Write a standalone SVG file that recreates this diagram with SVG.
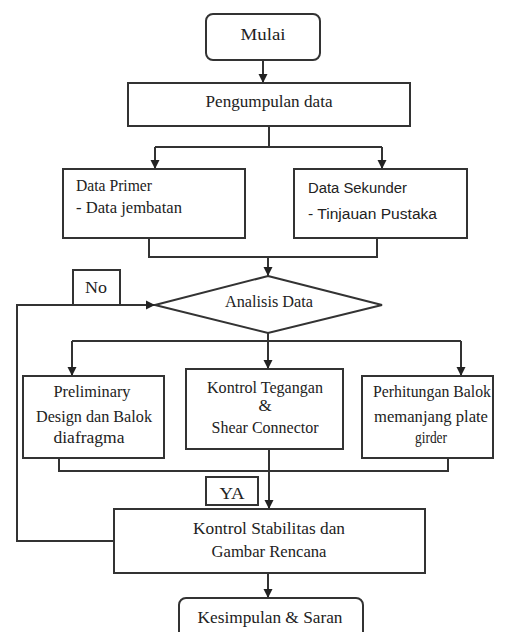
<svg xmlns="http://www.w3.org/2000/svg" width="507" height="632" viewBox="0 0 507 632">
<defs>
<marker id="ah" markerUnits="userSpaceOnUse" markerWidth="10" markerHeight="10" refX="9" refY="5" orient="auto">
<path d="M0,0.5 L9,5 L0,9.5 Z" fill="#222"/>
</marker>
<style>
.box{fill:#fff;stroke:#333;stroke-width:2}
.ln{fill:none;stroke:#333;stroke-width:2}
.t{font-family:"Liberation Serif","DejaVu Serif",serif;font-size:17px;fill:#222}
.s{font-family:"Liberation Sans","DejaVu Sans",sans-serif;font-size:14px;fill:#222}
</style>
</defs>
<rect width="507" height="632" fill="#fff"/>
<g id="connectors">
<path class="ln" d="M263,60 V83" marker-end="url(#ah)"/>
<path class="ln" d="M269,126 V147 M155,147 H382"/>
<path class="ln" d="M155,147 V169" marker-end="url(#ah)"/>
<path class="ln" d="M382,147 V169" marker-end="url(#ah)"/>
<path class="ln" d="M149,238 V257 H377 V238"/>
<path class="ln" d="M268,257 V276" marker-end="url(#ah)"/>
<path class="ln" d="M268,333 V341 M72,341 H461"/>
<path class="ln" d="M72,341 V376" marker-end="url(#ah)"/>
<path class="ln" d="M268,341 V369" marker-end="url(#ah)"/>
<path class="ln" d="M461,341 V376" marker-end="url(#ah)"/>
<path class="ln" d="M59,458 V471 H448 V458"/>
<path class="ln" d="M269,449 V509" marker-end="url(#ah)"/>
<path class="ln" d="M114,541 H17 V305 H155" marker-end="url(#ah)"/>
<path class="ln" d="M268,573 V598" marker-end="url(#ah)"/>
</g>
<g id="mulai">
<rect class="box" x="206" y="14" width="114" height="46" rx="7"/>
<text class="t" x="263" y="40" text-anchor="middle" textLength="45" lengthAdjust="spacingAndGlyphs">Mulai</text>
</g>
<g id="pengumpulan">
<rect class="box" x="128" y="83" width="282" height="43"/>
<text class="t" x="269" y="107" text-anchor="middle" textLength="127" lengthAdjust="spacingAndGlyphs">Pengumpulan data</text>
</g>
<g id="data-primer">
<rect class="box" x="63" y="169" width="182" height="69"/>
<text class="t" x="76" y="191" textLength="76" lengthAdjust="spacingAndGlyphs">Data Primer</text>
<text class="t" x="76" y="213" textLength="106" lengthAdjust="spacingAndGlyphs">- Data jembatan</text>
</g>
<g id="data-sekunder">
<rect class="box" x="294" y="169" width="173" height="69"/>
<text class="s" x="308" y="193" textLength="99" lengthAdjust="spacingAndGlyphs">Data Sekunder</text>
<text class="s" x="308" y="219" textLength="129" lengthAdjust="spacingAndGlyphs">- Tinjauan Pustaka</text>
</g>
<g id="analisis">
<polygon class="box" points="268,276 382,305 268,333 155,305"/>
<text class="t" x="269" y="307" text-anchor="middle" textLength="88" lengthAdjust="spacingAndGlyphs">Analisis Data</text>
</g>
<g id="no">
<rect class="box" x="73" y="270" width="47" height="35"/>
<text class="t" x="96" y="293" text-anchor="middle" textLength="22" lengthAdjust="spacingAndGlyphs">No</text>
</g>
<g id="preliminary">
<rect class="box" x="23" y="376" width="141" height="82"/>
<text class="t" x="92" y="397" text-anchor="middle" textLength="77" lengthAdjust="spacingAndGlyphs">Preliminary</text>
<text class="t" x="94" y="422" text-anchor="middle" textLength="116" lengthAdjust="spacingAndGlyphs">Design dan Balok</text>
<text class="t" x="89" y="443" text-anchor="middle" textLength="71" lengthAdjust="spacingAndGlyphs">diafragma</text>
</g>
<g id="kontrol-tegangan">
<rect class="box" x="186" y="369" width="157" height="80"/>
<text class="t" x="265" y="393" text-anchor="middle" textLength="116" lengthAdjust="spacingAndGlyphs">Kontrol Tegangan</text>
<text class="t" x="265" y="411" text-anchor="middle">&amp;</text>
<text class="t" x="265" y="433" text-anchor="middle" textLength="107" lengthAdjust="spacingAndGlyphs">Shear Connector</text>
</g>
<g id="perhitungan">
<rect class="box" x="362" y="376" width="131" height="82"/>
<text class="t" x="432" y="397" text-anchor="middle" textLength="118" lengthAdjust="spacingAndGlyphs">Perhitungan Balok</text>
<text class="t" x="431" y="422" text-anchor="middle" textLength="114" lengthAdjust="spacingAndGlyphs">memanjang plate</text>
<text class="t" x="431" y="443" text-anchor="middle" textLength="32" lengthAdjust="spacingAndGlyphs">girder</text>
</g>
<g id="ya">
<rect class="box" x="206" y="477" width="52" height="28"/>
<text class="t" x="232" y="499" text-anchor="middle" textLength="25" lengthAdjust="spacingAndGlyphs">YA</text>
</g>
<g id="kontrol-stabilitas">
<rect class="box" x="114" y="509" width="311" height="64"/>
<text class="t" x="269" y="534" text-anchor="middle" textLength="152" lengthAdjust="spacingAndGlyphs">Kontrol Stabilitas dan</text>
<text class="t" x="269" y="557" text-anchor="middle" textLength="115" lengthAdjust="spacingAndGlyphs">Gambar Rencana</text>
</g>
<g id="kesimpulan">
<rect class="box" x="179" y="598" width="184" height="50" rx="7"/>
<text class="t" x="270" y="623" text-anchor="middle" textLength="145" lengthAdjust="spacingAndGlyphs">Kesimpulan &amp; Saran</text>
</g>
</svg>
